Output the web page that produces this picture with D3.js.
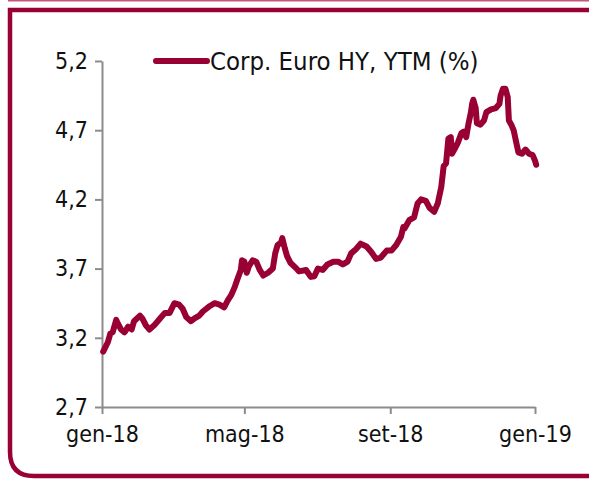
<!DOCTYPE html>
<html lang="it">
<head>
<meta charset="UTF-8">
<title>Corp. Euro HY, YTM (%)</title>
<script src="https://d3js.org/d3.v7.min.js"></script>
<style>
  body { margin: 0; background: #fff; }
  svg text { font-family: "DejaVu Sans Condensed", "DejaVu Sans", sans-serif; fill: #111; }
  .axis path, .axis line { stroke: #8c8c8c; stroke-width: 2px; }
  .series { fill: none; stroke: #990033; stroke-width: 6px; stroke-linejoin: round; stroke-linecap: round; }
</style>
</head>
<body>
<div id="chart"></div>
<script>
// values (roughly every 3-4 days)
const dates = [
  "2018-01-02","2018-01-06","2018-01-08","2018-01-10","2018-01-13","2018-01-14","2018-01-17","2018-01-20",
  "2018-01-23","2018-01-26","2018-01-28","2018-02-02","2018-02-04","2018-02-07","2018-02-10","2018-02-14",
  "2018-02-18","2018-02-23","2018-02-27","2018-03-03","2018-03-07","2018-03-10","2018-03-13","2018-03-17",
  "2018-03-20","2018-03-24","2018-03-27","2018-04-02","2018-04-06","2018-04-10","2018-04-14","2018-04-17",
  "2018-04-20","2018-04-23","2018-04-25","2018-04-28","2018-04-29","2018-05-01","2018-05-03","2018-05-05",
  "2018-05-08","2018-05-11","2018-05-14","2018-05-17","2018-05-21","2018-05-25","2018-05-27","2018-05-29",
  "2018-06-01","2018-06-02","2018-06-04","2018-06-06","2018-06-09","2018-06-14","2018-06-16","2018-06-22",
  "2018-06-26","2018-06-29","2018-07-02","2018-07-06","2018-07-10","2018-07-15","2018-07-19","2018-07-23",
  "2018-07-27","2018-07-30","2018-08-03","2018-08-07","2018-08-12","2018-08-16","2018-08-20","2018-08-24",
  "2018-08-29","2018-09-02","2018-09-06","2018-09-10","2018-09-12","2018-09-13","2018-09-17","2018-09-21",
  "2018-09-24","2018-09-27","2018-10-01","2018-10-04","2018-10-08","2018-10-11","2018-10-14","2018-10-16",
  "2018-10-18","2018-10-20","2018-10-22","2018-10-23","2018-10-25","2018-10-28","2018-10-31","2018-11-02",
  "2018-11-04","2018-11-06","2018-11-08","2018-11-09","2018-11-10","2018-11-12","2018-11-13","2018-11-16",
  "2018-11-19","2018-11-21","2018-11-25","2018-11-29","2018-12-02","2018-12-03","2018-12-05","2018-12-07",
  "2018-12-09","2018-12-10","2018-12-12","2018-12-14","2018-12-16","2018-12-18","2018-12-21","2018-12-24",
  "2018-12-27","2018-12-30","2019-01-01","2019-01-02"
];
const ytm = [
  3.10, 3.17, 3.23, 3.24, 3.33, 3.31, 3.26, 3.24,
  3.28, 3.26, 3.32, 3.36, 3.34, 3.29, 3.26, 3.29,
  3.33, 3.38, 3.38, 3.45, 3.44, 3.41, 3.35, 3.32,
  3.34, 3.36, 3.39, 3.43, 3.45, 3.44, 3.42, 3.47,
  3.51, 3.57, 3.62, 3.69, 3.76, 3.75, 3.67, 3.72,
  3.76, 3.75, 3.69, 3.65, 3.67, 3.70, 3.81, 3.87,
  3.89, 3.92, 3.85, 3.79, 3.74, 3.70, 3.68, 3.69,
  3.64, 3.645, 3.70, 3.69, 3.73, 3.75, 3.75, 3.73,
  3.75, 3.81, 3.84, 3.88, 3.86, 3.82, 3.77, 3.78,
  3.83, 3.83, 3.87, 3.93, 4.00, 3.99, 4.05, 4.07,
  4.17, 4.20, 4.19, 4.14, 4.11, 4.17, 4.29, 4.44,
  4.46, 4.64, 4.65, 4.53, 4.56, 4.61, 4.68, 4.69,
  4.65, 4.75, 4.83, 4.89, 4.92, 4.86, 4.75, 4.74,
  4.77, 4.83, 4.85, 4.86, 4.89, 4.95, 5.00, 5.00,
  4.94, 4.77, 4.74, 4.70, 4.62, 4.54, 4.53, 4.56,
  4.53, 4.52, 4.48, 4.45
];
const yTicks = [2.7, 3.2, 3.7, 4.2, 4.7, 5.2];
const xTicks = ["2018-01-01", "2018-05-01", "2018-09-01", "2019-01-01"];
const monthNames = ["gen","feb","mar","apr","mag","giu","lug","ago","set","ott","nov","dic"];
const seriesName = "Corp. Euro HY, YTM (%)";

const W = 589, H = 479;
const parse = d3.timeParse("%Y-%m-%d");
const data = dates.map((d, i) => ({ date: parse(d), value: ytm[i] }));

const svg = d3.select("#chart").append("svg")
    .attr("width", W)
    .attr("height", H);

// frame: thin line on top, thick border with rounded bottom-left corner
svg.append("line")
    .attr("x1", 8).attr("x2", W).attr("y1", 0.5).attr("y2", 0.5)
    .attr("stroke", "#c2577b").attr("stroke-width", 2);

const r = 24;
svg.append("path")
    .attr("d", `M${W + 10},10 H10 V${476 - r} Q10,476 ${10 + r},476 H${W + 10}`)
    .attr("fill", "none")
    .attr("stroke", "#990033")
    .attr("stroke-width", 4.5);

const x = d3.scaleTime()
    .domain([parse("2018-01-01"), parse("2019-01-01")])
    .range([102, 535]);
const y = d3.scaleLinear()
    .domain([2.7, 5.2])
    .range([407, 61]);

const fmtY = d => d.toFixed(1).replace(".", ",");
const fmtX = d => monthNames[d.getMonth()] + "-" + String(d.getFullYear()).slice(2);

// Y axis
const gy = svg.append("g")
    .attr("class", "axis")
    .attr("transform", "translate(102,0)")
    .call(d3.axisLeft(y).tickValues(yTicks).tickFormat(fmtY).tickSize(7).tickSizeOuter(0).tickPadding(7));
gy.selectAll("text").style("font-size", "23px").attr("fill", "#111");

// X axis
const gx = svg.append("g")
    .attr("class", "axis")
    .attr("transform", "translate(0,407)")
    .call(d3.axisBottom(x).tickValues(xTicks.map(parse)).tickFormat(fmtX).tickSize(7).tickSizeOuter(0).tickPadding(12));
gx.selectAll("text").style("font-size", "23px").attr("fill", "#111");

// series
const line = d3.line()
    .x(d => x(d.date))
    .y(d => y(d.value));

svg.append("path")
    .datum(data)
    .attr("class", "series")
    .attr("d", line);

// legend
svg.append("line")
    .attr("x1", 156).attr("x2", 207)
    .attr("y1", y(5.2)).attr("y2", y(5.2))
    .attr("stroke", "#990033").attr("stroke-width", 6)
    .attr("stroke-linecap", "round");
svg.append("text")
    .attr("x", 210).attr("y", y(5.2))
    .attr("dy", "0.35em")
    .style("font-size", "25.5px")
    .text(seriesName);
</script>
</body>
</html>
